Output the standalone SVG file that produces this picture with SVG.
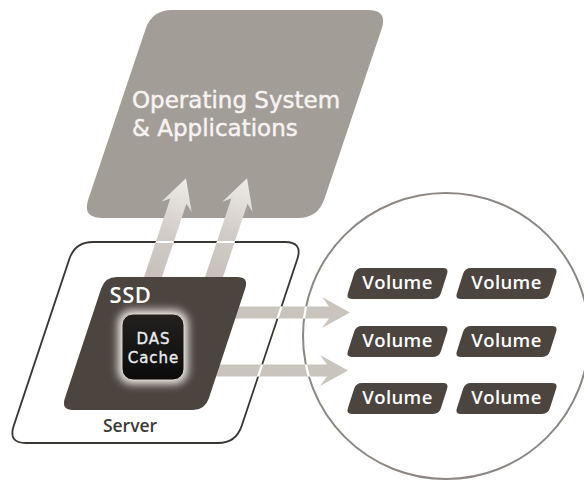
<svg xmlns="http://www.w3.org/2000/svg" xmlns:xlink="http://www.w3.org/1999/xlink" width="584" height="482" viewBox="0 0 584 482">
<style>
.os{fill:#a39d98}
.osText{font-family:"DejaVu Sans","Open Sans",sans-serif;font-size:23px;fill:#f6f4f2;stroke:#f6f4f2;stroke-width:0.45}
.dark{fill:#4b443f}
.outline{fill:none;stroke:#3a3633;stroke-width:1.8}
.ring{fill:none;stroke:#8c8782;stroke-width:2}
.gap{fill:none;stroke:#ffffff;stroke-width:2.2}
.lbl{font-family:"Open Sans","Liberation Sans",sans-serif;font-weight:600;fill:#ffffff;text-anchor:middle}
.vol{font-size:18.5px;letter-spacing:0.4px}
.das{font-family:"DejaVu Sans","Open Sans",sans-serif;font-size:15px;letter-spacing:1px;fill:#ececec;stroke:#ececec;stroke-width:0.35;text-anchor:middle}
.srv{font-family:"Open Sans","Liberation Sans",sans-serif;font-weight:600;font-size:17.5px;fill:#3c3936;text-anchor:middle}
.harrow{fill:#cac4be}
</style>
<defs>
<linearGradient id="upGrad" x1="0" y1="0" x2="1" y2="0">
<stop offset="0" stop-color="#c4bdb6"/>
<stop offset="0.55" stop-color="#d3cec9"/>
<stop offset="1" stop-color="#efece9"/>
</linearGradient>
<linearGradient id="dasGrad" x1="0" y1="0" x2="0" y2="1">
<stop offset="0" stop-color="#222120"/>
<stop offset="1" stop-color="#0b0b0b"/>
</linearGradient>
<filter id="glow" x="-40%" y="-40%" width="180%" height="180%">
<feGaussianBlur stdDeviation="4.5"/>
</filter>
<path id="serverShape" d="M 93,242 L 285,242 Q 303,242 297.3,259.1 L 241.7,425.9 Q 236,443 218,443 L 26,443 Q 8,443 13.7,425.9 L 69.3,259.1 Q 75,242 93,242 Z"/>
<polygon id="upArrow" points="-15,-8.5 80,-8.5 74,-16 104,0 74,16 80,8.5 -15,8.5"/>
<polygon id="hArrow1" points="0,-6 104,-6 97,-15.5 125,0 97,15.5 104,6 0,6"/>
<polygon id="hArrow2" points="0,-6 122,-6 115,-15.5 143,0 115,15.5 122,6 0,6"/>
<path id="vol" d="M 16,0 L 97,0 Q 103,0 101.1,5.7 L 94.9,25.3 Q 93,31 87,31 L 6,31 Q 0,31 1.9,25.3 L 8.1,5.7 Q 10,0 16,0 Z"/>
<clipPath id="arrowClip">
<use xlink:href="#upArrow" transform="translate(153,277) rotate(-71.5)"/>
<use xlink:href="#upArrow" transform="translate(214,277) rotate(-71.5)"/>
<use xlink:href="#hArrow1" transform="translate(225,312.5)"/>
<use xlink:href="#hArrow2" transform="translate(205,370.5)"/>
</clipPath>
</defs>

<g id="os-apps">
<path class="os" d="M 172,10 L 368,10 Q 388,10 381.6,29 L 324.4,199 Q 318,218 298,218 L 102,218 Q 82,218 88.4,199 L 145.6,29 Q 152,10 172,10 Z"/>
<text class="osText" x="132" y="107.5">Operating System</text>
<text class="osText" x="132" y="136">&amp; Applications</text>
</g>

<g id="server">
<use xlink:href="#serverShape" class="outline"/>
<text class="srv" x="130" y="432">Server</text>
</g>

<g id="volume-pool">
<circle class="ring" cx="446" cy="336" r="143"/>
</g>

<g id="connectors">
<use xlink:href="#upArrow" fill="url(#upGrad)" transform="translate(153,277) rotate(-71.5)"/>
<use xlink:href="#upArrow" fill="url(#upGrad)" transform="translate(214,277) rotate(-71.5)"/>
<use xlink:href="#hArrow1" class="harrow" transform="translate(225,312.5)"/>
<use xlink:href="#hArrow2" class="harrow" transform="translate(205,370.5)"/>
<g clip-path="url(#arrowClip)">
<use xlink:href="#serverShape" class="gap"/>
<circle class="gap" cx="446" cy="336" r="143"/>
</g>
</g>

<g id="ssd">
<path class="dark" d="M 117,277 L 237,277 Q 249,277 245.2,288.4 L 208.8,398.6 Q 205,410 193,410 L 73,410 Q 61,410 64.8,398.6 L 101.2,288.4 Q 105,277 117,277 Z"/>
<text class="lbl" x="130.5" y="303" style="font-size:22px;letter-spacing:0.5px">SSD</text>
</g>

<g id="das-cache">
<rect x="118" y="310" width="70" height="74" rx="14" fill="#efebe7" filter="url(#glow)"/>
<rect x="122" y="314" width="62" height="66" rx="11" fill="url(#dasGrad)" stroke="#d9d5d1" stroke-width="1"/>
<text class="das" x="153.5" y="344">DAS</text>
<text class="das" x="153.5" y="362.5">Cache</text>
</g>

<g id="vol-1-1"><use xlink:href="#vol" class="dark" transform="translate(346,268)"/><text class="lbl vol" x="397.5" y="289">Volume</text></g>
<g id="vol-1-2"><use xlink:href="#vol" class="dark" transform="translate(455,268)"/><text class="lbl vol" x="506.5" y="289">Volume</text></g>
<g id="vol-2-1"><use xlink:href="#vol" class="dark" transform="translate(346,326)"/><text class="lbl vol" x="397.5" y="347">Volume</text></g>
<g id="vol-2-2"><use xlink:href="#vol" class="dark" transform="translate(455,326)"/><text class="lbl vol" x="506.5" y="347">Volume</text></g>
<g id="vol-3-1"><use xlink:href="#vol" class="dark" transform="translate(346,383)"/><text class="lbl vol" x="397.5" y="404">Volume</text></g>
<g id="vol-3-2"><use xlink:href="#vol" class="dark" transform="translate(455,383)"/><text class="lbl vol" x="506.5" y="404">Volume</text></g>
</svg>
